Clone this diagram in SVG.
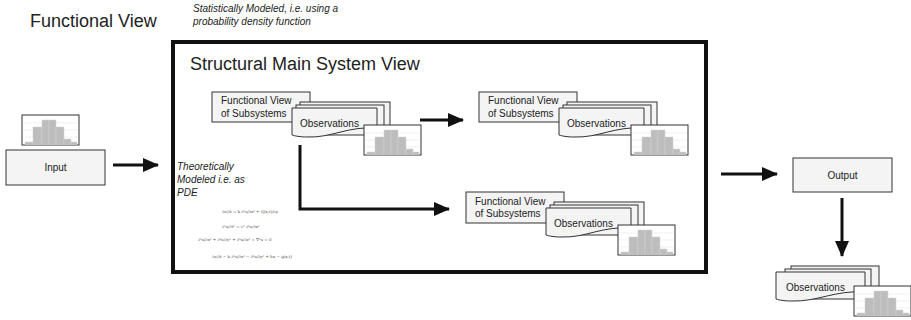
<svg xmlns="http://www.w3.org/2000/svg" xmlns:xlink="http://www.w3.org/1999/xlink" width="911" height="320" viewBox="0 0 911 320">
<style>
text{font-family:"Liberation Sans",Arial,sans-serif;fill:#222}
.t10{font-size:10px}
.it{font-size:10px;font-style:italic}
.big{font-size:18px}
.box{fill:#f4f4f4;stroke:#333;stroke-width:1}
.page{fill:#f4f4f4;stroke:#333;stroke-width:1}
.doc{fill:#f4f4f4;stroke:#333;stroke-width:1}
.conn{fill:none;stroke:#111;stroke-width:3}
.eq{font-family:"DejaVu Serif","Liberation Serif",serif;font-size:4px;fill:#555}
</style>
<defs>
<marker id="ah" markerUnits="userSpaceOnUse" markerWidth="16" markerHeight="14" refX="15" refY="7" orient="auto">
<path d="M0,0 L16,7 L0,14 Z" fill="#111"/>
</marker>
<g id="hist">
<rect x="0" y="0" width="57" height="30" fill="#fff" stroke="#333" stroke-width="1"/>
<g stroke="#e6e6e6" stroke-width="0.6">
<line x1="1" y1="8" x2="56" y2="8"/><line x1="1" y1="15" x2="56" y2="15"/><line x1="1" y1="22" x2="56" y2="22"/>
</g>
<g fill="#bdbdbd" stroke="#d4d4d4" stroke-width="0.5">
<rect x="3" y="27" width="8" height="2.5"/>
<rect x="11" y="12" width="9" height="17.5"/>
<rect x="20" y="5" width="7" height="24.5"/>
<rect x="27" y="5" width="7" height="24.5"/>
<rect x="34" y="12" width="8" height="17.5"/>
<rect x="42" y="24" width="7" height="5.5"/>
<rect x="49" y="27" width="6" height="2.5"/>
</g>
</g>
</defs>

<text class="big" x="30" y="27">Functional View</text>
<text class="it" x="193" y="12">Statistically Modeled, i.e. using a</text>
<text class="it" x="193" y="24.5">probability density function</text>

<g id="main-system">
<rect x="173" y="42" width="533" height="230" fill="#fff" stroke="#111" stroke-width="4"/>
<text class="big" x="190" y="70">Structural Main System View</text>
<text class="it" x="177" y="170">Theoretically</text>
<text class="it" x="177" y="183">Modeled i.e. as</text>
<text class="it" x="177" y="196">PDE</text>
<text class="eq" x="222" y="213">∂u/∂t = k ∂²u/∂x² + Q(x,t)/cρ</text>
<text class="eq" x="222" y="228">∂²u/∂t² = c² ∂²u/∂x²</text>
<text class="eq" x="198" y="241">∂²u/∂x² + ∂²u/∂y² + ∂²u/∂z² = ∇²u = 0</text>
<text class="eq" x="212" y="258">∂u/∂t − k ∂²u/∂x² − ∂²u/∂y² + hu − g(x,t)</text>
</g>

<g id="input">
<use xlink:href="#hist" x="22" y="115"/>
<rect class="box" x="6" y="150" width="99" height="35"/>
<text class="t10" x="55.5" y="171" text-anchor="middle">Input</text>
</g>

<g id="subsystem-1" transform="translate(212,92)">
<rect class="box" x="0" y="0" width="98" height="30"/>
<text class="t10" x="9" y="12">Functional View</text>
<text class="t10" x="9" y="24.5">of Subsystems</text>
<rect class="page" x="88" y="10" width="90" height="30"/>
<rect class="page" x="84" y="13" width="88" height="30"/>
<path class="doc" transform="translate(80,16)" d="M0,0 H85 V20 C55,18 40,30 15,29 C8,29 3,28 0,27 Z"/>
<text class="t10" x="88" y="35">Observations</text>
<use xlink:href="#hist" x="152" y="33"/>
</g>

<g id="subsystem-2" transform="translate(479,92)">
<rect class="box" x="0" y="0" width="98" height="30"/>
<text class="t10" x="9" y="12">Functional View</text>
<text class="t10" x="9" y="24.5">of Subsystems</text>
<rect class="page" x="88" y="10" width="90" height="30"/>
<rect class="page" x="84" y="13" width="88" height="30"/>
<path class="doc" transform="translate(80,16)" d="M0,0 H85 V20 C55,18 40,30 15,29 C8,29 3,28 0,27 Z"/>
<text class="t10" x="88" y="35">Observations</text>
<use xlink:href="#hist" x="152" y="33"/>
</g>

<g id="subsystem-3" transform="translate(466,192)">
<rect class="box" x="0" y="0" width="98" height="31"/>
<text class="t10" x="9" y="12.5">Functional View</text>
<text class="t10" x="9" y="25">of Subsystems</text>
<rect class="page" x="88" y="10" width="90" height="30"/>
<rect class="page" x="84" y="13" width="88" height="30"/>
<path class="doc" transform="translate(80,16)" d="M0,0 H85 V20 C55,18 40,30 15,29 C8,29 3,28 0,27 Z"/>
<text class="t10" x="88" y="35">Observations</text>
<use xlink:href="#hist" x="152" y="33"/>
</g>

<g id="output">
<rect class="box" x="793" y="158" width="99" height="34"/>
<text class="t10" x="842.5" y="178.5" text-anchor="middle">Output</text>
</g>

<g id="observations-out">
<rect class="page" x="791" y="266" width="88" height="30"/>
<rect class="page" x="785" y="269" width="86" height="30"/>
<path class="doc" transform="translate(776,272)" d="M0,0 H89 V20 C58,18 42,30 15,29 C8,29 3,28 0,27 Z"/>
<text class="t10" x="786" y="291">Observations</text>
<use xlink:href="#hist" x="854" y="286"/>
</g>

<g id="connectors">
<line class="conn" x1="113" y1="165" x2="158" y2="165" marker-end="url(#ah)"/>
<line class="conn" x1="420" y1="120" x2="463" y2="120" marker-end="url(#ah)"/>
<polyline class="conn" points="300,145 300,209 449,209" marker-end="url(#ah)"/>
<line class="conn" x1="721" y1="174" x2="777" y2="174" marker-end="url(#ah)"/>
<line class="conn" x1="842" y1="198" x2="842" y2="256" marker-end="url(#ah)"/>
</g>
</svg>
